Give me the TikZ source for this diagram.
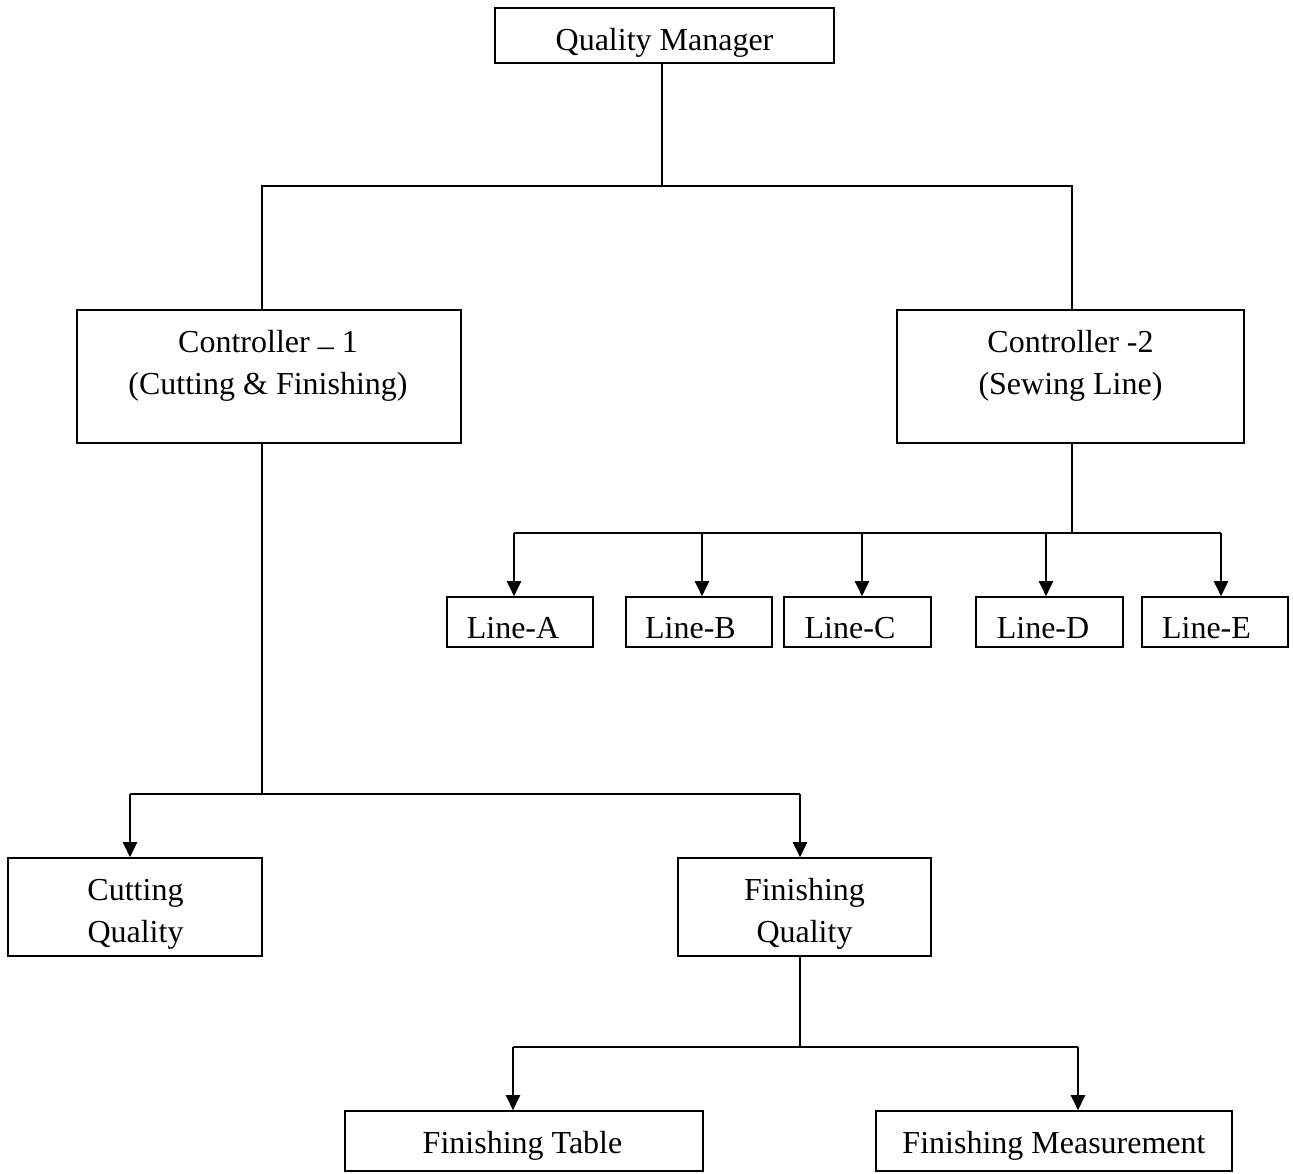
\documentclass[tikz,border=0pt]{standalone}
\usepackage{fontspec}
\setmainfont{Liberation Serif}
\usetikzlibrary{arrows.meta}
\begin{document}
\begin{tikzpicture}[x=1pt,y=-1pt,
  line width=1.6pt,
  box/.style={draw=black, rectangle, inner sep=0pt},
  txt/.style={anchor=base, inner sep=0pt, font=\fontsize{32}{42}\selectfont},
  arr/.style={line width=2.2pt, -{Triangle[width=14pt,length=15pt]}}]

\fill[white] (0,0) rectangle (1293,1173);
\useasboundingbox (0,0) rectangle (1293,1173);

% boxes
\node[box, minimum width=339pt, minimum height=55pt]  (qm) at (664.5,35.5) {};
\node[box, minimum width=384pt, minimum height=133pt] (c1) at (269,376.5) {};
\node[box, minimum width=347pt, minimum height=133pt] (c2) at (1070.5,376.5) {};
\node[box, minimum width=146pt, minimum height=50pt]  (la) at (520,622) {};
\node[box, minimum width=146pt, minimum height=50pt]  (lb) at (699,622) {};
\node[box, minimum width=147pt, minimum height=50pt]  (lc) at (857.5,622) {};
\node[box, minimum width=147pt, minimum height=50pt]  (ld) at (1049.5,622) {};
\node[box, minimum width=146pt, minimum height=50pt]  (le) at (1215,622) {};
\node[box, minimum width=254pt, minimum height=98pt]  (cq) at (135,907) {};
\node[box, minimum width=253pt, minimum height=98pt]  (fq) at (804.5,907) {};
\node[box, minimum width=358pt, minimum height=60pt]  (ft) at (524,1141) {};
\node[box, minimum width=356pt, minimum height=60pt]  (fm) at (1054,1141) {};

% labels
\node[txt] (qmt)  at (664.5,50)  {Quality Manager};
\node[txt] (c1t)  at (268,352)   {Controller \raisebox{0.2em}{\_} 1};
\node[txt] (c1u)  at (268,394)   {(Cutting \& Finishing)};
\node[txt] (c2t)  at (1070.5,352) {Controller -2};
\node[txt] (c2u)  at (1070.5,394) {(Sewing Line)};
\node[txt] (lat)  at (513,638)   {Line-A};
\node[txt] (lbt)  at (690.5,638) {Line-B};
\node[txt] (lct)  at (850,638)   {Line-C};
\node[txt] (ldt)  at (1043,638)  {Line-D};
\node[txt] (let)  at (1206.5,638) {Line-E};
\node[txt] (cqt)  at (135.5,900) {Cutting};
\node[txt] (cqu)  at (135.5,942) {Quality};
\node[txt] (fqt)  at (804.5,900) {Finishing};
\node[txt] (fqu)  at (804.5,942) {Quality};
\node[txt] (ftt)  at (522.5,1153) {Finishing Table};
\node[txt] (fmt)  at (1054,1153) {Finishing Measurement};

% junction points
\coordinate (j0) at (662,186);
\coordinate (k1) at (262,186);
\coordinate (k2) at (1072,186);
\coordinate (s0) at (1072,533);
\coordinate (sa) at (514,533);
\coordinate (sb) at (702,533);
\coordinate (sc) at (862,533);
\coordinate (sd) at (1046,533);
\coordinate (se) at (1221,533);
\coordinate (f0) at (262,794);
\coordinate (fa) at (130,794);
\coordinate (fb) at (800,794);
\coordinate (g0) at (800,1047);
\coordinate (ga) at (513,1047);
\coordinate (gb) at (1078,1047);

% manager to controllers
\draw (qm.south -| j0) -- (j0);
\draw (k1 |- c1.north) -- (k1) -- (k2) -- (k2 |- c2.north);

% controller 2 to sewing lines
\draw (c2.south -| s0) -- (s0);
\draw (sa) -- (se);
\draw[arr] (sa) -- (sa |- la.north);
\draw[arr] (sb) -- (sb |- lb.north);
\draw[arr] (sc) -- (sc |- lc.north);
\draw[arr] (sd) -- (sd |- ld.north);
\draw[arr] (se) -- (se |- le.north);

% controller 1 to cutting and finishing
\draw (c1.south -| f0) -- (f0);
\draw (fa) -- (fb);
\draw[arr] (fa) -- (fa |- cq.north);
\draw[arr] (fb) -- (fb |- fq.north);

% finishing quality to table and measurement
\draw (fq.south -| g0) -- (g0);
\draw (ga) -- (gb);
\draw[arr] (ga) -- (ga |- ft.north);
\draw[arr] (gb) -- (gb |- fm.north);
\end{tikzpicture}
\end{document}
